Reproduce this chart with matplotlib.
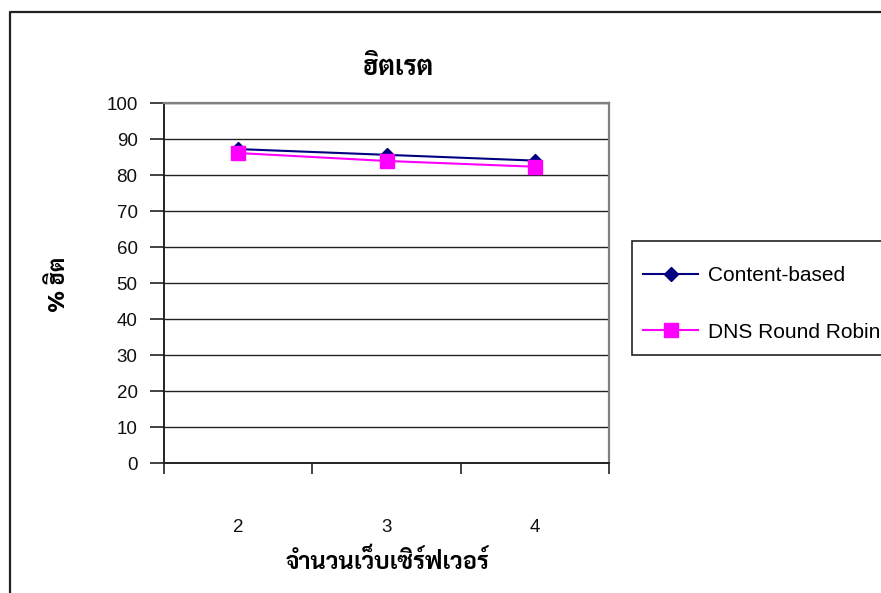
import matplotlib
matplotlib.use("Agg")
import matplotlib.pyplot as plt
from matplotlib.lines import Line2D
from matplotlib.patches import Rectangle

# Data
servers = ["2", "3", "4"]
content_based = [87.2, 85.6, 84.0]
dns_round_robin = [86.1, 83.9, 82.3]
series_names = ["Content-based", "DNS Round Robin"]
title_text = "ฮิตเรต"
xlabel_text = "จำนวนเว็บเซิร์ฟเวอร์"
ylabel_text = "% ฮิต"

latin = ["Liberation Sans", "DejaVu Sans"]
thai = ["Sarabun", "Noto Sans Thai Looped", "Liberation Sans", "DejaVu Sans"]
plt.rcParams["font.family"] = latin

W, H = 881, 593
fig = plt.figure(figsize=(W / 100, H / 100), dpi=100)
fig.patch.set_facecolor("white")

ax = fig.add_axes([164 / W, 1 - 463 / H, 445 / W, 360 / H])
x = list(range(len(servers)))

ax.plot(x, content_based, color="#000080", lw=1.5, marker="D", ms=7,
        label=series_names[0], zorder=3)
ax.plot(x, dns_round_robin, color="#FF00FF", lw=1.5, marker="s", ms=10,
        label=series_names[1], zorder=3)

ax.set_xlim(-0.5, len(servers) - 0.5)
ax.set_ylim(0, 100)
ax.set_yticks(range(0, 101, 10))
ax.yaxis.grid(True, color="#222222", lw=1.0)
ax.set_axisbelow(True)

# category boundaries carry the tick marks, centres carry the labels
ax.set_xticks([i - 0.5 for i in range(len(servers) + 1)])
ax.set_xticklabels([])
ax.set_xticks(x, minor=True)
ax.set_xticklabels(servers, minor=True)
ax.tick_params(axis="x", which="major", direction="out", length=8, width=1.2,
               color="#222222")
ax.tick_params(axis="x", which="minor", length=0, pad=40.5, labelsize=13.5,
               labelcolor="#111111")
ax.tick_params(axis="y", direction="out", length=10, width=1.2, color="#222222",
               labelsize=13.5, labelcolor="#111111", pad=9)

for side in ("left", "bottom"):
    ax.spines[side].set_color("#222222")
    ax.spines[side].set_linewidth(1.4)
for side in ("top", "right"):
    ax.spines[side].set_color("#808080")
    ax.spines[side].set_linewidth(1.6)

fig.text(398 / W, 1 - 68 / H, title_text, ha="center", va="center",
         fontsize=19, fontweight="bold", family=thai)
fig.text(387 / W, 1 - 561 / H, xlabel_text, ha="center", va="center",
         fontsize=17, fontweight="bold", family=thai)
fig.text(59 / W, 1 - 284 / H, ylabel_text, ha="center", va="center",
         fontsize=16.5, fontweight="bold", rotation=90, family=thai)

# legend box, running off the right edge
fig.add_artist(Rectangle((632 / W, 1 - 355 / H), 300 / W, 114 / H,
                         transform=fig.transFigure, facecolor="white",
                         edgecolor="#222222", lw=1.2, zorder=2))
leg = fig.legend(loc="upper left", bbox_to_anchor=(643 / W, 1 - 266 / H),
                 fontsize=15, frameon=False, borderpad=0, borderaxespad=0,
                 handlelength=2.65, handletextpad=0.45, labelspacing=1.8)
leg.set_zorder(3)

# outer chart border (left and top edges)
fig.add_artist(Line2D([10 / W, 10 / W, 1.0], [0.0, 1 - 12 / H, 1 - 12 / H],
                      transform=fig.transFigure, color="#222222", lw=1.6))

fig.savefig("out.png", dpi=100, facecolor="white")
